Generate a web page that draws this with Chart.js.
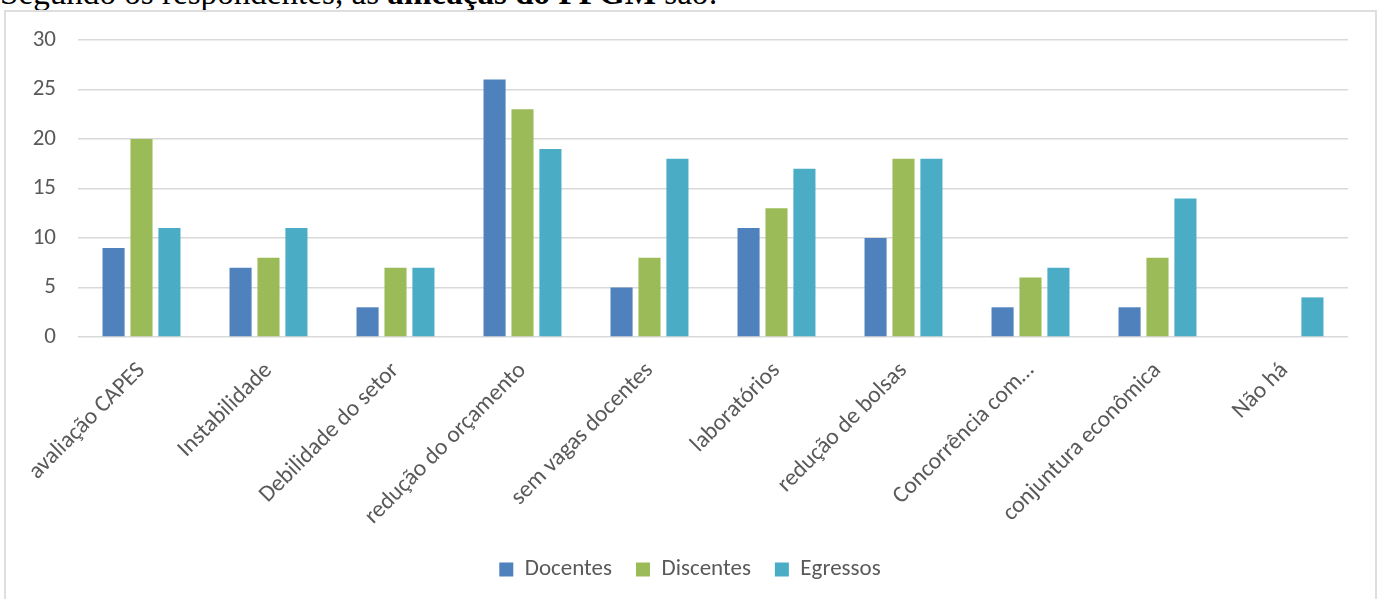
<!DOCTYPE html>
<html>
<head>
<meta charset="utf-8">
<script src="https://cdn.jsdelivr.net/npm/chart.js@4/dist/chart.umd.min.js"></script>
<style>
  html, body { margin: 0; padding: 0; background: #fff; width: 1380px; height: 599px; overflow: hidden; }
  #lead {
    position: absolute; left: 0; top: 0; white-space: nowrap;
    font-family: 'Liberation Serif', 'DejaVu Serif', serif; color: #000; line-height: 1;
  }
  #frame {
    position: absolute; left: 4px; top: 10px; width: 1373px; height: 620px;
    border: 2px solid #dedede; box-sizing: border-box; background: #fff;
  }
  #wrap { position: absolute; left: 0; top: 0; width: 1380px; height: 591px; }
</style>
</head>
<body>
<div id="lead">Segundo os respondentes, as <b>ameaças do PPGM</b> são:</div>
<div id="frame"></div>
<div id="wrap"><canvas id="chart"></canvas></div>
<script>
const categories = ['avaliação CAPES', 'Instabilidade', 'Debilidade do setor', 'redução do orçamento',
  'sem vagas docentes', 'laboratórios', 'redução de bolsas', 'Concorrência com…',
  'conjuntura econômica', 'Não há']
const docentes  = [9, 7, 3, 26, 5, 11, 10, 3, 3, 0]
const discentes = [20, 8, 7, 23, 8, 13, 18, 6, 8, 0]
const egressos  = [11, 11, 7, 19, 18, 17, 18, 7, 14, 4]
const yTicks = [0, 5, 10, 15, 20, 25, 30]

const FONT = "Carlito, Lato, 'Open Sans', sans-serif"
const TEXT = '#595959'

// lead sentence: sized so it spans the same width as the original, top half cut off
const lead = document.getElementById('lead')
let fs = 26
lead.style.fontSize = fs + 'px'
fs = fs * 718 / lead.getBoundingClientRect().width
lead.style.fontSize = fs + 'px'
lead.style.top = (4 - fs * 0.84) + 'px'

const ds = (label, data, color) => ({
  label, data,
  backgroundColor: color,
  borderWidth: 0,
  categoryPercentage: 0.66,
  barPercentage: 0.79,
})

new Chart(document.getElementById('chart'), {
  type: 'bar',
  data: {
    labels: categories,
    datasets: [
      ds('Docentes', docentes, '#4f81bd'),
      ds('Discentes', discentes, '#9bbb59'),
      ds('Egressos', egressos, '#4bacc6'),
    ],
  },
  options: {
    animation: false,
    responsive: true,
    maintainAspectRatio: false,
    layout: { padding: { top: 40, right: 0, bottom: 0, left: 0 } },
    plugins: {
      tooltip: { enabled: false },
      legend: {
        position: 'bottom',
        labels: {
          color: TEXT,
          font: { size: 23, family: FONT },
          boxWidth: 14,
          boxHeight: 14,
          padding: 24,
        },
      },
    },
    scales: {
      x: {
        grid: { display: false, drawTicks: false },
        border: { display: false },
        ticks: {
          color: TEXT,
          font: { size: 23.5, family: FONT },
          minRotation: 45,
          maxRotation: 45,
          autoSkip: false,
          padding: 20,
        },
        afterFit: s => { s.height = 197 },
      },
      y: {
        min: 0,
        max: 30,
        afterBuildTicks: s => { s.ticks = yTicks.map(v => ({ value: v })) },
        grid: { color: '#d9d9d9', lineWidth: 1.5, drawTicks: false },
        border: { display: false },
        ticks: {
          color: TEXT,
          font: { size: 23, family: FONT },
          padding: 22,
        },
        afterFit: s => { s.width = 78 },
      },
      // empty right-hand strip so the plot ends where the original does
      side: {
        position: 'right',
        grid: { display: false, drawTicks: false },
        border: { display: false },
        ticks: { display: false },
        afterFit: s => { s.width = 32 },
      },
    },
  },
})
</script>
</body>
</html>
